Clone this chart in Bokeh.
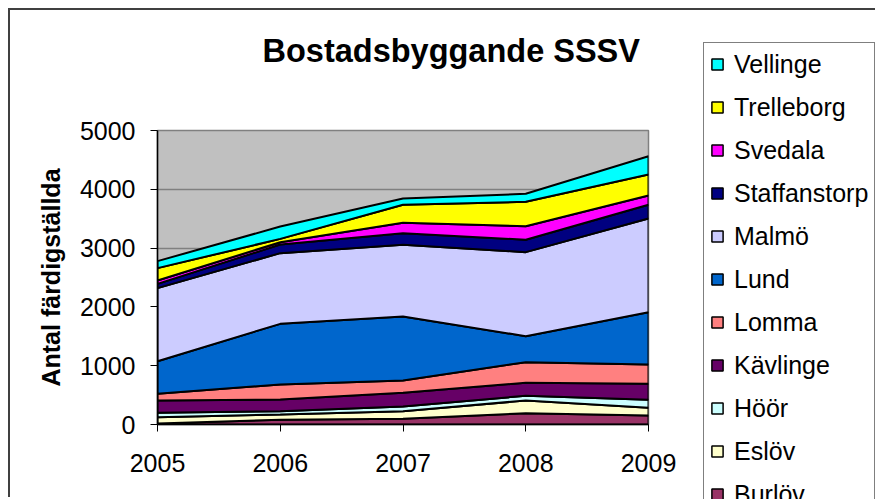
from bokeh.plotting import figure
from bokeh.models import Legend, LegendItem, FixedTicker, Label
from bokeh.embed import file_html
from bokeh.resources import INLINE

# ---- data ----
years = [2005, 2006, 2007, 2008, 2009]
burlov = [15, 80, 97, 190, 153]
eslov = [110, 90, 130, 218, 130]
hoor = [73, 57, 79, 80, 137]
kavlinge = [210, 198, 233, 221, 272]
lomma = [114, 255, 209, 351, 328]
lund = [555, 1032, 1089, 442, 890]
malmo = [1242, 1202, 1219, 1429, 1593]
staffanstorp = [73, 147, 198, 210, 233]
svedala = [57, 39, 176, 232, 159]
trelleborg = [210, 57, 306, 414, 357]
vellinge = [119, 210, 108, 136, 311]

names = ["Burlöv", "Eslöv", "Höör", "Kävlinge", "Lomma", "Lund", "Malmö",
         "Staffanstorp", "Svedala", "Trelleborg", "Vellinge"]
series = [burlov, eslov, hoor, kavlinge, lomma, lund, malmo,
          staffanstorp, svedala, trelleborg, vellinge]
colors = ["#993366", "#FFFFCC", "#CCFFFF", "#660066", "#FF8080", "#0066CC",
          "#CCCCFF", "#000080", "#FF00FF", "#FFFF00", "#00FFFF"]
y_ticks = [0, 1000, 2000, 3000, 4000, 5000]
title_text = "Bostadsbyggande SSSV"
y_title = "Antal färdigställda"

FONT = "Liberation Sans, Arial, sans-serif"


def stacked_polygons():
    bottom = [0] * len(years)
    out = []
    for name, vals, col in zip(names, series, colors):
        top = [b + v for b, v in zip(bottom, vals)]
        out.append((name, col, years + years[::-1], top + bottom[::-1]))
        bottom = top
    return out


# ---- main chart ----
p = figure(width=867, height=489, x_range=(2005, 2009), y_range=(0, 5000),
           output_backend="svg", toolbar_location=None,
           min_border_left=147, min_border_top=120,
           min_border_right=229, min_border_bottom=75)
p.styles = {"border-left": "2px solid #404040", "border-top": "2px solid #404040",
            "margin-left": "8px", "margin-top": "8px"}
p.background_fill_color = "#C0C0C0"
p.border_fill_color = "white"
p.outline_line_color = "#808080"
p.outline_line_width = 1.5

for name, col, xs, ys in stacked_polygons():
    p.patch(xs, ys, fill_color=col, line_color="black", line_width=2)

p.xaxis.ticker = FixedTicker(ticks=years)
p.yaxis.ticker = FixedTicker(ticks=y_ticks)
for ax in (p.xaxis, p.yaxis):
    ax.major_tick_out = 7
    ax.major_tick_in = 0
    ax.minor_tick_line_color = None
    ax.axis_line_color = "black"
    ax.axis_line_width = 1.5
    ax.major_tick_line_color = "black"
    ax.major_tick_line_width = 1
    ax.major_label_text_font = FONT
    ax.major_label_text_font_size = "25px"
    ax.major_label_text_color = "black"
p.xaxis.major_label_standoff = 22
p.yaxis.major_label_standoff = 15
p.yaxis.axis_label = y_title
p.yaxis.axis_label_text_font = FONT
p.yaxis.axis_label_text_font_size = "25px"
p.yaxis.axis_label_text_font_style = "bold"
p.yaxis.axis_label_text_color = "black"
p.yaxis.axis_label_standoff = 12

p.xgrid.grid_line_color = None
p.ygrid.grid_line_color = "#808080"
p.ygrid.grid_line_width = 1.5


def overlay(left, top, w, h):
    f = figure(width=w, height=h, output_backend="svg", toolbar_location=None,
               x_axis_type=None, y_axis_type=None, min_border=0)
    f.title.visible = False
    f.outline_line_color = None
    f.background_fill_alpha = 0
    f.border_fill_alpha = 0
    f.grid.grid_line_color = None
    f.styles = {"position": "absolute", "left": f"{left}px", "top": f"{top}px"}
    return f


# ---- title overlay ----
tt = overlay(250, 20, 420, 60)
tt.add_layout(Label(x=12, y=30, x_units="screen", y_units="screen", text=title_text,
                    text_font=FONT, text_font_size="32.5px", text_font_style="bold",
                    text_color="black", text_baseline="alphabetic", text_align="left"))

# ---- legend overlay ----
lg = overlay(703, 42, 174, 457)
items = []
for name, col, xs, ys in reversed(stacked_polygons()):
    r = lg.patch(xs, ys, fill_color=col, line_color="black", line_width=1.5, visible=False)
    items.append(LegendItem(label=name, renderers=[r]))

legend = Legend(items=items, location="top_left")
legend.label_text_font = FONT
legend.label_text_font_size = "25px"
legend.label_text_color = "black"
legend.glyph_width = 14
legend.glyph_height = 14
legend.label_height = 30
legend.spacing = 13
legend.padding = 6
legend.margin = 0
legend.label_standoff = 10
legend.border_line_color = "black"
legend.border_line_width = 1
legend.background_fill_color = "white"
legend.background_fill_alpha = 1
legend.inactive_fill_alpha = 0
lg.add_layout(legend)

open("out.html", "w").write(file_html([p, tt, lg], INLINE))
